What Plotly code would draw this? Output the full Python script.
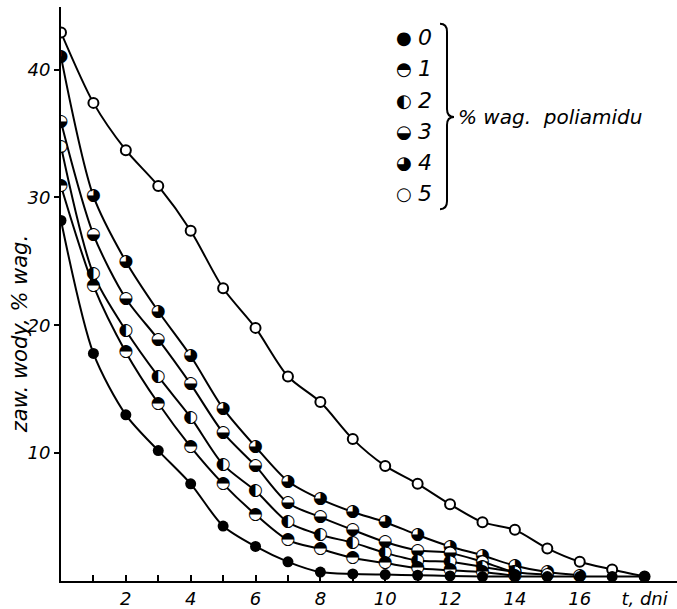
import plotly.graph_objects as go

# ---- data (t in days, water content in wt.%) ----
days = list(range(19))
water_0 = [28.2, 17.8, 13.0, 10.2, 7.6, 4.3, 2.7, 1.5, 0.7, 0.55, 0.5, 0.45, 0.4, 0.35, 0.35, 0.35, 0.35, 0.35, 0.35]
water_1 = [30.9, 23.1, 17.9, 13.9, 10.5, 7.6, 5.2, 3.2, 2.5, 1.8, 1.4, 1.0, 0.85, 0.7, 0.4]
water_2 = [34.0, 24.0, 19.6, 16.0, 12.8, 9.1, 7.05, 4.6, 3.6, 3.0, 2.2, 1.6, 1.5, 1.1, 0.7]
water_3 = [35.9, 27.1, 22.1, 18.9, 15.4, 11.6, 9.0, 6.1, 5.0, 4.0, 3.05, 2.4, 2.2, 1.5, 0.7, 0.5]
water_4 = [41.0, 30.1, 25.0, 21.1, 17.6, 13.5, 10.5, 7.8, 6.4, 5.4, 4.6, 3.6, 2.7, 2.0, 1.2, 0.7, 0.45]
water_5 = [42.9, 37.4, 33.7, 30.9, 27.4, 22.9, 19.8, 16.0, 14.0, 11.1, 9.0, 7.6, 6.0, 4.6, 4.0, 2.55, 1.5, 0.9, 0.35]

series_labels = ["0", "1", "2", "3", "4", "5"]
series_values = [water_0, water_1, water_2, water_3, water_4, water_5]
series_glyphs = ["●", "◓", "◐", "◒", "◕", "○"]

x_tick_vals = [2, 4, 6, 8, 10, 12, 14, 16, 18]
x_tick_text = ["2", "4", "6", "8", "10", "12", "14", "16", "t, dni"]
y_tick_vals = [10, 20, 30, 40]
y_tick_text = ["10", "20", "30", "40"]

y_title = "zaw. wody, % wag."
legend_title = "% wag.  poliamidu"

# ---- layout geometry ----
W, H = 677, 609
L, R, T, B = 61, 0, 7, 23
X0, X1 = L, W - R
Y0, Y1 = H - B, T


def px_x(X):
    return (X - X0) / (X1 - X0)


def px_y(Y):
    return (Y0 - Y) / (Y0 - Y1)


FONT = "DejaVu Sans"

fig = go.Figure()

# curves
for vals in series_values:
    fig.add_trace(go.Scatter(
        x=days[:len(vals)], y=vals, mode="lines",
        line=dict(color="black", width=2, shape="spline", smoothing=0.8),
        hoverinfo="skip", showlegend=False))

# markers (drawn 5 -> 0 so the filled series sits on top)
for lab, vals, g in reversed(list(zip(series_labels, series_values, series_glyphs))):
    xs = days[:len(vals)]
    if lab == "0":
        fig.add_trace(go.Scatter(x=xs, y=vals, mode="markers",
                                 marker=dict(symbol="circle", size=11, color="black"),
                                 showlegend=False))
    elif lab == "5":
        fig.add_trace(go.Scatter(x=xs, y=vals, mode="markers",
                                 marker=dict(symbol="circle", size=10, color="white",
                                             line=dict(color="black", width=2)),
                                 showlegend=False))
    else:
        fig.add_trace(go.Scatter(x=xs, y=vals, mode="markers+text",
                                 marker=dict(symbol="circle", size=11, color="white"),
                                 text=[g] * len(vals), textposition="middle center",
                                 textfont=dict(family=FONT, size=17, color="black"),
                                 showlegend=False))

# legend (manual)
ann = []
for i, (lab, g) in enumerate(zip(series_labels, series_glyphs)):
    yy = 38 + 31.5 * i
    ann.append(dict(x=px_x(404), y=px_y(yy), xref="paper", yref="paper",
                    text=g, showarrow=False, xanchor="center", yanchor="middle",
                    font=dict(family=FONT, size=18, color="black")))
    ann.append(dict(x=px_x(416), y=px_y(yy), xref="paper", yref="paper",
                    text=lab, showarrow=False, xanchor="left", yanchor="middle",
                    font=dict(family=FONT, size=22, color="black", style="italic")))

ann.append(dict(x=px_x(456), y=px_y(118), xref="paper", yref="paper",
                text=legend_title, showarrow=False, xanchor="left", yanchor="middle",
                font=dict(family=FONT, size=20, color="black", style="italic")))
ann.append(dict(x=px_x(20), y=px_y(337), xref="paper", yref="paper",
                text=y_title, textangle=-90, showarrow=False,
                xanchor="center", yanchor="middle",
                font=dict(family=FONT, size=21, color="black", style="italic")))

# brace
bx, btop, bbot, bmid, btip = 447, 24, 211, 118, 454


def P(X, Y):
    return f"{px_x(X):.5f},{px_y(Y):.5f}"


brace = (f"M {P(440, btop)} Q {P(bx, btop)} {P(bx, btop + 8)} "
         f"L {P(bx, bmid - 8)} Q {P(bx, bmid)} {P(btip, bmid)} "
         f"Q {P(bx, bmid)} {P(bx, bmid + 8)} "
         f"L {P(bx, bbot - 8)} Q {P(bx, bbot)} {P(440, bbot)}")

fig.update_layout(
    width=W, height=H,
    margin=dict(l=L, r=R, t=T, b=B, pad=0),
    paper_bgcolor="white", plot_bgcolor="white",
    showlegend=False,
    font=dict(family=FONT, size=18, color="black", style="italic"),
    annotations=ann,
    shapes=[dict(type="path", path=brace, xref="paper", yref="paper",
                 line=dict(color="black", width=2))],
    xaxis=dict(range=[0, 19], showgrid=False, zeroline=False,
               showline=True, linecolor="black", linewidth=2,
               tickvals=x_tick_vals, ticktext=x_tick_text,
               ticks="inside", ticklen=6, tickwidth=1.5, tickcolor="black",
               minor=dict(dtick=1, tick0=0, ticks="inside", ticklen=6,
                          tickwidth=1.5, tickcolor="black"),
               tickfont=dict(family=FONT, size=18, style="italic"),
               fixedrange=True),
    yaxis=dict(range=[0, 44.9], showgrid=False, zeroline=False,
               showline=True, linecolor="black", linewidth=2,
               tickvals=y_tick_vals, ticktext=y_tick_text,
               ticks="outside", ticklen=5, tickwidth=1.5, tickcolor="black",
               tickfont=dict(family=FONT, size=18, style="italic"),
               fixedrange=True),
)

fig.write_html("out.html")
